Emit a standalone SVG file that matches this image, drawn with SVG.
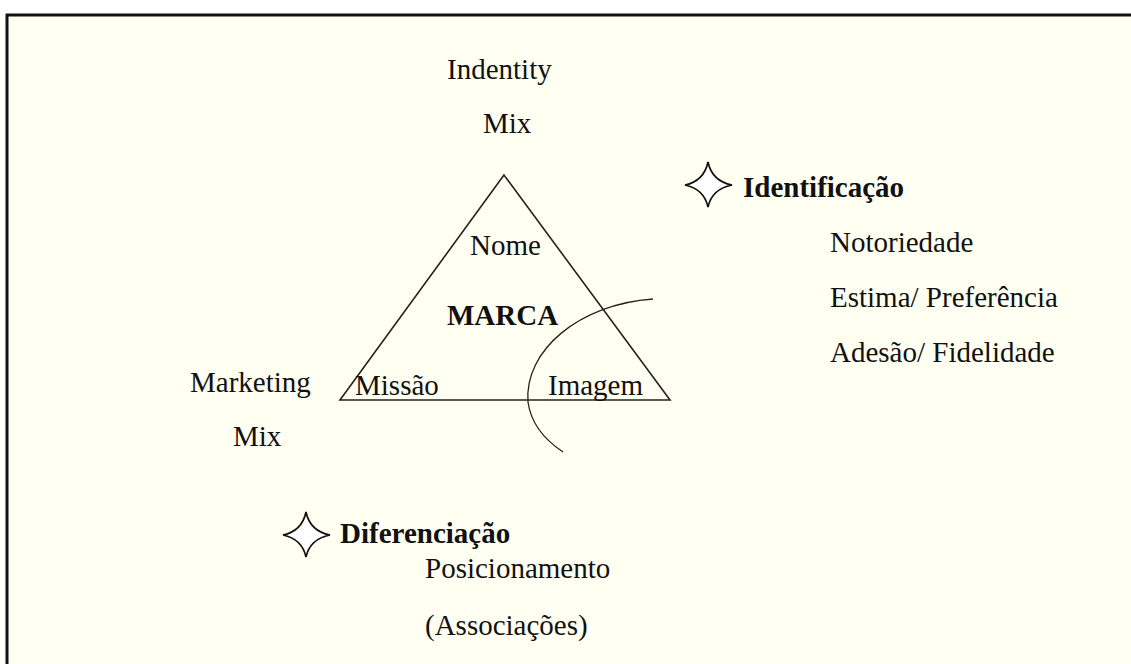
<svg xmlns="http://www.w3.org/2000/svg" width="1131" height="664" viewBox="0 0 1131 664">
<style>
  text { font-family: 'Liberation Serif', 'DejaVu Serif', 'Noto Serif', serif; font-size: 29px; fill: #111; }
  .b { font-weight: bold; }
  .ln { fill: none; stroke: #222; stroke-width: 1.6; }
  .star { fill: #fff; stroke: #111; stroke-width: 1.7; stroke-linejoin: miter; }
</style>
<defs>
  <path id="star4" d="M0,-23 Q4,-4 24,0 Q4,4 0,22 Q-4,4 -23,0 Q-4,-4 0,-23 Z"/>
</defs>
<rect x="0" y="0" width="1131" height="664" fill="#ffffff"/>
<rect x="7" y="15" width="1140" height="670" fill="#fffff2" stroke="#111" stroke-width="3"/>

<g id="identity-mix">
  <text x="447" y="79">Indentity</text>
  <text x="483" y="133">Mix</text>
</g>

<g id="marca-triangle">
  <polygon class="ln" points="504,175 340,400 670,400"/>
  <text x="470" y="255">Nome</text>
  <text class="b" x="447" y="325">MARCA</text>
  <text x="355" y="395">Missão</text>
  <text x="548" y="395">Imagem</text>
</g>

<g id="connectors">
  <path class="ln" style="stroke-width:1.3" d="M653,299 C580,304 524,350 528,402 C531,424 545,440 563,452"/>
</g>

<g id="marketing-mix">
  <text x="190" y="392">Marketing</text>
  <text x="233" y="446">Mix</text>
</g>

<g id="identificacao">
  <use href="#star4" class="star" transform="translate(708,185)"/>
  <text class="b" x="743" y="197">Identificação</text>
  <text x="830" y="252">Notoriedade</text>
  <text x="830" y="307">Estima/ Preferência</text>
  <text x="830" y="362">Adesão/ Fidelidade</text>
</g>

<g id="diferenciacao">
  <use href="#star4" class="star" transform="translate(306,535)"/>
  <text class="b" x="340" y="543">Diferenciação</text>
  <text x="425" y="578">Posicionamento</text>
  <text x="425" y="635">(Associações)</text>
</g>
</svg>
